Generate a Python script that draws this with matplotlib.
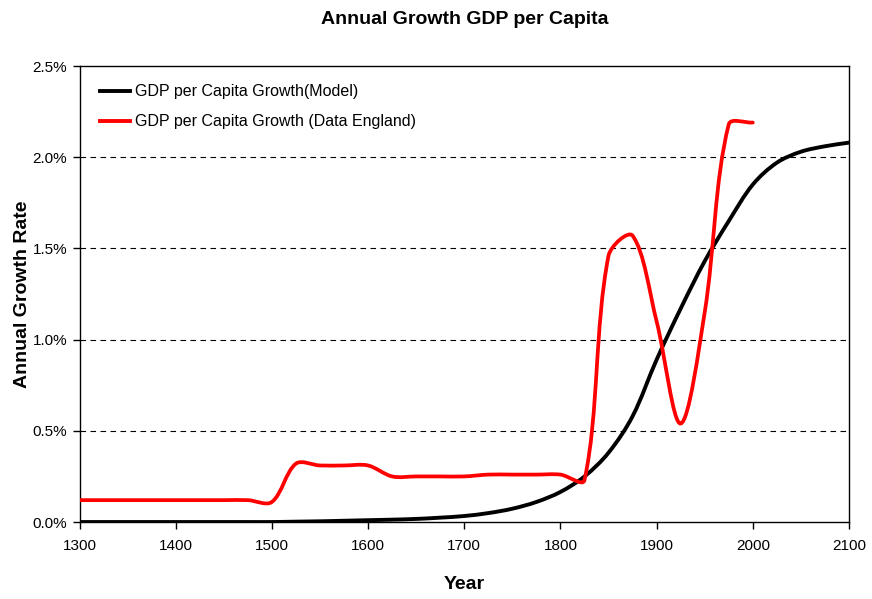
import matplotlib
matplotlib.use("Agg")
import matplotlib.pyplot as plt
from matplotlib.path import Path
from matplotlib.patches import PathPatch
from matplotlib.lines import Line2D
from matplotlib.ticker import FuncFormatter

plt.rcParams['font.family'] = ['Liberation Sans', 'DejaVu Sans']

# data (annual growth rate in %)
model_years = [1300, 1325, 1350, 1375, 1400, 1425, 1450, 1475, 1500, 1525, 1550,
               1575, 1600, 1625, 1650, 1675, 1700, 1725, 1750, 1775, 1800, 1825,
               1850, 1875, 1900, 1925, 1950, 1975, 2000, 2025, 2050, 2075, 2100]
model_growth = [0.0, 0.0, 0.0, 0.0, 0.0, 0.0, 0.0, 0.0, 0.0, 0.002, 0.004,
                0.007, 0.010, 0.013, 0.017, 0.024, 0.033, 0.049, 0.073, 0.11, 0.165, 0.25,
                0.38, 0.58, 0.89, 1.17, 1.43, 1.65, 1.85, 1.97, 2.03, 2.06, 2.08]

data_years = [1300, 1325, 1350, 1375, 1400, 1425, 1450, 1475, 1500, 1525, 1550,
              1575, 1600, 1625, 1650, 1675, 1700, 1725, 1750, 1775, 1800, 1825,
              1850, 1875, 1900, 1925, 1950, 1975, 2000]
data_growth = [0.12, 0.12, 0.12, 0.12, 0.12, 0.12, 0.12, 0.12, 0.11, 0.32, 0.31,
               0.31, 0.31, 0.25, 0.25, 0.25, 0.25, 0.26, 0.26, 0.26, 0.26, 0.23,
               1.46, 1.57, 1.10, 0.54, 1.15, 2.18, 2.19]

x_ticks = [1300, 1400, 1500, 1600, 1700, 1800, 1900, 2000, 2100]
y_ticks = [0.0, 0.5, 1.0, 1.5, 2.0, 2.5]

# rough pixel scale of the plot area, used to weight the smoothing like Excel does
PX_PER_YEAR = 0.962
PX_PER_PCT = 182.4


def smooth_path(xs, ys):
    # excel-like smoothed line: bezier segments, control arms weighted by segment length
    n = len(xs)

    def dist(a, b):
        dx = (xs[b] - xs[a]) * PX_PER_YEAR
        dy = (ys[b] - ys[a]) * PX_PER_PCT
        return (dx * dx + dy * dy) ** 0.5

    verts = [(xs[0], ys[0])]
    codes = [Path.MOVETO]
    for i in range(n - 1):
        a, b = max(i - 1, 0), min(i + 2, n - 1)
        d_prev = dist(a, i)
        d_cur = dist(i, i + 1)
        d_next = dist(i + 1, b)
        w1 = d_cur / (d_prev + d_cur) if d_prev + d_cur > 0 else 0.5
        w2 = d_cur / (d_cur + d_next) if d_cur + d_next > 0 else 0.5
        c1 = (xs[i] + (xs[i + 1] - xs[a]) * w1 / 3.0,
              ys[i] + (ys[i + 1] - ys[a]) * w1 / 3.0)
        c2 = (xs[i + 1] - (xs[b] - xs[i]) * w2 / 3.0,
              ys[i + 1] - (ys[b] - ys[i]) * w2 / 3.0)
        verts += [c1, c2, (xs[i + 1], ys[i + 1])]
        codes += [Path.CURVE4] * 3
    return Path(verts, codes)


fig = plt.figure(figsize=(8.72, 5.99), dpi=100)
ax = fig.add_axes([0.0912, 0.1285, 0.8824, 0.7613])

ax.add_patch(PathPatch(smooth_path(model_years, model_growth), fill=False,
                       edgecolor='black', lw=2.8, capstyle='round', zorder=3))
ax.add_patch(PathPatch(smooth_path(data_years, data_growth), fill=False,
                       edgecolor='#ff0000', lw=2.7, capstyle='round', zorder=4))

ax.set_xlim(1300, 2100)
ax.set_ylim(0, 2.5)
ax.set_xticks(x_ticks)
ax.set_yticks(y_ticks)
ax.yaxis.set_major_formatter(FuncFormatter(lambda v, p: '%.1f%%' % v))
ax.tick_params(direction='out', length=5, width=1, labelsize=11, colors='black', pad=4)
ax.tick_params(axis='x', pad=7)

for v in y_ticks[1:-1]:
    ax.axhline(v, color='black', lw=0.8, ls=(0, (5, 4)), zorder=1)

for s in ax.spines.values():
    s.set_linewidth(1.0)
    s.set_color('black')

ax.set_title('Annual Growth GDP per Capita', fontsize=14, fontweight='bold', pad=30)
ax.set_xlabel('Year', fontsize=14, fontweight='bold', labelpad=17)
ax.set_ylabel('Annual Growth Rate', fontsize=14, fontweight='bold', labelpad=1)

handles = [Line2D([], [], color='black', lw=2.8),
           Line2D([], [], color='#ff0000', lw=2.8)]
ax.legend(handles, ['GDP per Capita Growth(Model)', 'GDP per Capita Growth (Data England)'],
          loc='upper left', bbox_to_anchor=(0.018, 0.974), frameon=False, fontsize=11.5,
          handlelength=1.9, handletextpad=0.28, labelspacing=0.95, borderaxespad=0.0)

fig.savefig('out.png', dpi=100, facecolor='white')
